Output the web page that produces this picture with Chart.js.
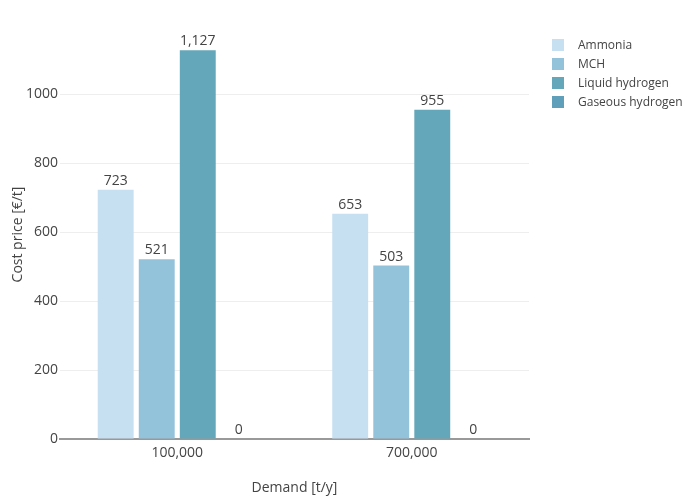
<!DOCTYPE html>
<html>
<head>
<meta charset="utf-8">
<script src="https://cdn.jsdelivr.net/npm/chart.js@4"></script>
<style>
  body { margin: 0; background: #fff; }
  #wrap { position: relative; width: 700px; height: 500px; }
  #legend { position: absolute; left: 552px; top: 35px; font: 12px "Open Sans", sans-serif; color: #444; }
  .item { height: 19px; display: flex; align-items: center; }
  .box { width: 12px; height: 12px; margin-right: 14px; }
</style>
</head>
<body>
<div id="wrap">
  <canvas id="myChart" width="700" height="500"></canvas>
  <div id="legend"></div>
</div>
<script>
const categories = ['100,000', '700,000']
const seriesNames = ['Ammonia', 'MCH', 'Liquid hydrogen', 'Gaseous hydrogen']
const ammonia = [723, 653]
const mch = [521, 503]
const liquidHydrogen = [1127, 955]
const gaseousHydrogen = [0, 0]
const yTicks = [0, 200, 400, 600, 800, 1000]
const colors = ['#c6e0f2', '#93c2db', '#64a7ba', '#5f9fb9']

Chart.defaults.font.family = '"Open Sans", sans-serif'
Chart.defaults.color = '#444'

// legend in html so it sits where the reference has it
let legendHtml = ''
seriesNames.forEach((name, i) => {
    legendHtml += `<div class="item"><div class="box" style="background:${colors[i]}"></div>${name}</div>`
})
document.getElementById('legend').innerHTML = legendHtml

// value labels above each bar
const barLabels = {
    id: 'barLabels',
    afterDatasetsDraw(chart) {
        const ctx = chart.ctx
        ctx.save()
        ctx.font = '14px "Open Sans", sans-serif'
        ctx.fillStyle = '#444'
        ctx.textAlign = 'center'
        ctx.textBaseline = 'bottom'
        chart.data.datasets.forEach((ds, i) => {
            chart.getDatasetMeta(i).data.forEach((bar, j) => {
                ctx.fillText(ds.data[j].toLocaleString('en-US'), bar.x, bar.y - 2)
            })
        })
        ctx.restore()
    }
}

const seriesData = [ammonia, mch, liquidHydrogen, gaseousHydrogen]
let ctx = document.getElementById('myChart')
new Chart(ctx, {
    type: 'bar',
    data: {
        labels: categories,
        datasets: seriesNames.map((name, i) => ({
            label: name,
            data: seriesData[i],
            backgroundColor: colors[i],
            categoryPercentage: 0.7,
            barPercentage: 0.875
        }))
    },
    options: {
        responsive: false,
        animation: false,
        layout: { padding: { top: 30, right: 171, left: 1, bottom: 0 } },
        plugins: {
            legend: { display: false },
            tooltip: { enabled: false }
        },
        scales: {
            x: {
                grid: { display: false, drawTicks: false },
                border: { color: '#999', width: 2 },
                ticks: { font: { size: 14 }, padding: 6 },
                title: { display: true, text: 'Demand [t/y]', font: { size: 14 }, padding: { top: 4, bottom: 4 } },
                afterFit: s => { s.height = 61 }
            },
            y: {
                min: 0,
                max: 1186,
                border: { display: false },
                grid: { color: '#eee', drawTicks: false },
                ticks: { font: { size: 14 }, padding: 2, autoSkip: false, callback: v => String(v) },
                afterBuildTicks: s => { s.ticks = yTicks.map(v => ({ value: v })) },
                title: { display: true, text: 'Cost price [€/t]', font: { size: 14 }, padding: { top: 9, bottom: 9 } },
                afterFit: s => { s.width = 59 }
            }
        }
    },
    plugins: [barLabels]
})
</script>
</body>
</html>
